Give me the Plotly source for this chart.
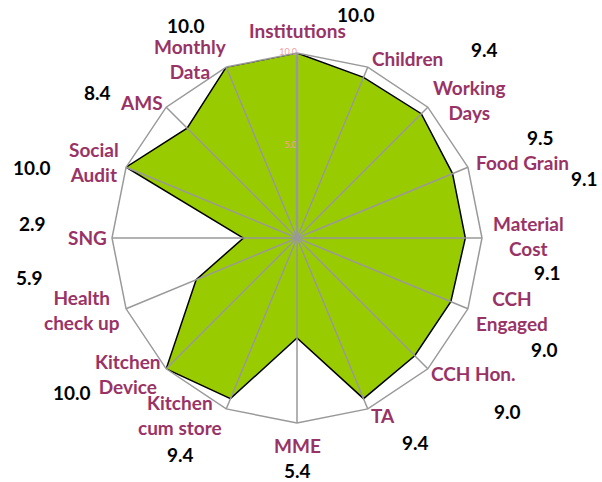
import plotly.graph_objects as go

categories = ["Institutions", "Children", "Working Days", "Food Grain", "Material Cost",
              "CCH Engaged", "CCH Hon.", "TA", "MME", "Kitchen cum store",
              "Kitchen Device", "Health check up", "SNG", "Social Audit", "AMS", "Monthly Data"]
values = [10.0, 9.4, 9.5, 9.1, 9.1, 9.0, 9.0, 9.4, 5.4, 9.4, 10.0, 5.9, 2.9, 10.0, 8.4, 10.0]
value_text = ["10.0", "9.4", "9.5", "9.1", "9.1", "9.0", "9.0", "9.4", "5.4", "9.4",
              "10.0", "5.9", "2.9", "10.0", "8.4", "10.0"]
radial_ticks = [0, 5, 10]
radial_tick_text = ["0.0", "5.0", "10.0"]

# label layout (pixel positions in the 602x482 picture)
cat_label_text = ["Institutions", "Children", "Working<br>Days", "Food Grain", "Material<br>Cost",
                  "CCH<br>Engaged", "CCH Hon.", "TA", "MME", "Kitchen<br>cum store",
                  "Kitchen<br>Device", "Health<br>check up", "SNG", "Social<br>Audit", "AMS",
                  "Monthly<br>Data"]
cat_label_xy = [(297, 30), (407, 58), (469, 100), (522, 162), (528, 236),
                (512, 311), (473, 373), (383, 415), (297, 445), (180, 415),
                (128, 374), (82, 310), (87, 237), (94, 162), (141, 102), (190, 59)]
val_label_xy = [(356, 14), (484, 50), (540, 137), (584, 178), (547, 272),
                (544, 349), (507, 411), (415, 442), (297, 470), (180, 454),
                (72, 392), (29, 277), (32, 223), (32, 167), (97, 92), (186, 25)]

W, H = 602, 482
CX, CY, R = 297, 238, 185

theta_closed = categories + [categories[0]]
r_closed = values + [values[0]]

fig = go.Figure()
fig.add_trace(go.Scatterpolar(
    r=r_closed, theta=theta_closed, mode="lines", fill="toself",
    fillcolor="#99CC00", line=dict(color="black", width=1.5), hoverinfo="skip",
    showlegend=False))

# spokes drawn over the fill
spoke_r, spoke_t = [], []
for c in categories:
    spoke_r += [0, 10, None]
    spoke_t += [c, c, None]
fig.add_trace(go.Scatterpolar(
    r=spoke_r, theta=spoke_t, mode="lines", line=dict(color="#999999", width=1.5),
    hoverinfo="skip", showlegend=False, connectgaps=False))

# radial tick labels, horizontal, left of the vertical axis
fig.add_trace(go.Scatterpolar(
    r=radial_ticks, theta=[categories[0]] * len(radial_ticks), mode="text",
    text=radial_tick_text, textposition="middle left",
    textfont=dict(family="Lato", size=9, color="#F4A0A0"),
    hoverinfo="skip", showlegend=False))

annotations = []
for txt, (x, y) in zip(cat_label_text, cat_label_xy):
    annotations.append(dict(x=x / W, y=1 - y / H, xref="paper", yref="paper", text=txt,
                            showarrow=False, xanchor="center", yanchor="middle",
                            font=dict(family="Lato", size=19, color="#993366", weight="bold"),
                            align="center"))
for txt, (x, y) in zip(value_text, val_label_xy):
    annotations.append(dict(x=x / W, y=1 - y / H, xref="paper", yref="paper", text=txt,
                            showarrow=False, xanchor="center", yanchor="middle",
                            font=dict(family="Lato", size=19, color="black", weight="bold")))

fig.update_layout(
    width=W, height=H, margin=dict(l=0, r=0, t=0, b=0),
    paper_bgcolor="white", plot_bgcolor="white",
    polar=dict(
        domain=dict(x=[(CX - R) / W, (CX + R) / W], y=[1 - (CY + R) / H, 1 - (CY - R) / H]),
        bgcolor="white",
        gridshape="linear",
        angularaxis=dict(direction="clockwise", rotation=90, showticklabels=False,
                         ticks="", showgrid=False, showline=True,
                         linecolor="#999999", linewidth=1.5),
        radialaxis=dict(range=[0, 10], tickvals=radial_ticks, showticklabels=False,
                        showgrid=False, showline=True, linecolor="#999999", linewidth=2.5,
                        angle=90, ticks="", layer="above traces"),
    ),
    annotations=annotations,
    showlegend=False,
)
fig.write_html("out.html", config={"displayModeBar": False},
               post_script="document.body.style.margin='0';document.body.style.padding='0';")
